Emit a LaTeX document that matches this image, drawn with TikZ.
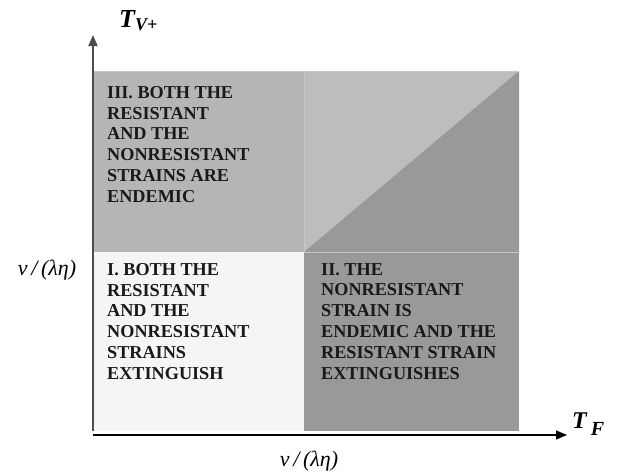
\documentclass[tikz,border=0pt]{standalone}
\usepackage{fontspec}
\setmainfont{Liberation Serif}
\usetikzlibrary{positioning, arrows.meta}
\definecolor{regionI}{gray}{0.96}
\definecolor{regionII}{gray}{0.60}
\definecolor{regionIII}{gray}{0.71}
\definecolor{regionTop}{gray}{0.74}
\definecolor{seam}{gray}{0.78}

\begin{document}
\begin{tikzpicture}[x=1pt,y=-1pt,
		regiontext/.style={anchor=north west, inner sep=0pt, align=left, text=black!90,
			font=\fontsize{18.2}{20.8}\selectfont\bfseries},
		axislabel/.style={inner sep=0pt, font=\fontsize{22}{22}\selectfont},
		axis/.style={-{Triangle[length=11pt,width=9pt]}}]
		\useasboundingbox (0,0) rectangle (621,472);
		% Regions of the plane
		\fill[regionI]   (94,252) rectangle (304,431);
		\fill[regionII]  (304,252) rectangle (519,431);
		\fill[regionIII] (94,71) rectangle (304,252);
		\fill[regionTop] (304,71) rectangle (519,252);
		\fill[regionII]  (304,252) -- (519,71) -- (519,252) -- cycle;
		% Faint seams between the regions
		\draw[seam, line width=0.6pt] (304,71) -- (304,252);
		\draw[seam, line width=0.6pt] (304,252) -- (519,252);
		\draw[seam, line width=0.6pt] (94,71) -- (519,71);

		% Texts of the regions
		\node[regiontext] (txtIII) at (107,86) {III. BOTH THE\\RESISTANT\\AND THE\\NONRESISTANT\\STRAINS ARE\\ENDEMIC};
		\node[regiontext] (txtI) at (107,263) {I. BOTH THE\\RESISTANT\\AND THE\\NONRESISTANT\\STRAINS\\EXTINGUISH};
		\node[regiontext] (txtII) at (321,263) {II. THE\\NONRESISTANT\\STRAIN IS\\ENDEMIC AND THE\\RESISTANT STRAIN\\EXTINGUISHES};

		% Axes
		\coordinate (ybase) at (93,431);
		\coordinate (ytip) at (93,35);
		\coordinate (xbase) at (93,435);
		\coordinate (xtip) at (567,435);
		\draw[axis, line width=1.8pt, black!70] (ybase) -- (ytip);
		\draw[axis, line width=1.3pt] (xbase) -- (xtip);

		% Axis labels
		\node[anchor=base west, inner sep=0pt] (tvlabel) at (119,27)
			{\fontsize{26}{26}\selectfont\bfseries\itshape T\raisebox{-3pt}{\fontsize{18}{18}\selectfont V+}};
		\node[anchor=base west, inner sep=0pt] (tflabel) at (572,428)
			{\fontsize{24}{24}\selectfont\bfseries\itshape T\,\raisebox{-7pt}{\fontsize{20}{20}\selectfont F}};
		\node[axislabel] (ylevel) at (47,270) {\itshape ν\,/\,(λη)};
		\node[axislabel] (xlevel) at (309,461) {\itshape ν\,/\,(λη)};
	\end{tikzpicture}
\end{document}
